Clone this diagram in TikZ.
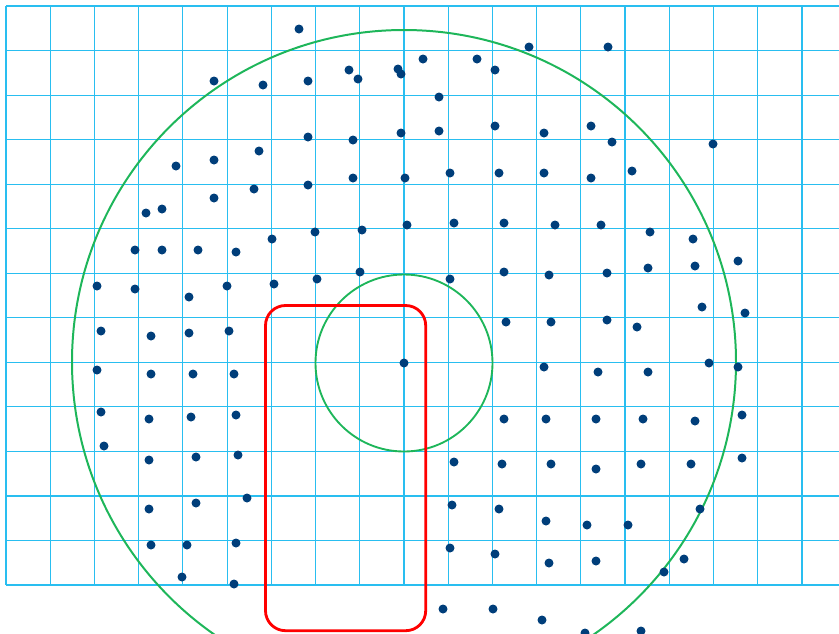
\documentclass[tikz,border=0pt]{standalone}
\usepackage{tikz}
\definecolor{gridcyan}{RGB}{41,190,240}
\definecolor{ringgreen}{RGB}{30,182,90}
\definecolor{dotblue}{RGB}{0,62,122}
\newcommand{\bggrid}{%
  \foreach \k in {0,...,13}{
    \draw[gridcyan,line width=1pt] (6,6+44.54*\k) -- (839,6+44.54*\k);
  }
  \foreach \k in {0,...,18}{
    \draw[gridcyan,line width=1pt] (6+44.22*\k,6) -- (6+44.22*\k,585);
  }%
}

\begin{document}
\begin{tikzpicture}[x=0.3mm,y=-0.3mm]
  \useasboundingbox (0,0) rectangle (839,633);
  \clip (0,0) rectangle (839,633);
  \bggrid
  % rings round the centre
  \draw[ringgreen,line width=1.7pt] (404,362) circle[radius=332];
  \draw[ringgreen,line width=1.6pt] (404,363) circle[radius=88.5];
  \draw[red,line width=2.4pt,rounded corners=6mm]
    (265.5,305.5) rectangle (425.7,630.7);
  % points
  \foreach \x/\y in {214/81,263/85,176/166,214/160,259/151,214/198,254/189,
      146/213,162/209,299/29,308/81,349/70,358/79,398/69,401/74,423/59,
      477/59,495/70,529/47,439/97,308/137,353/140,401/133,439/131,495/126,
      544/133,308/185,353/178,405/178,450/173,499/173,544/173,608/47,591/126,
      612/142,713/144,591/178,632/171,
      135/250,162/250,198/250,236/252,272/239,97/286,135/289,189/297,227/286,
      274/284,101/331,151/336,189/333,229/331,97/370,151/374,193/374,234/374,
      101/412,149/419,191/417,236/415,
      315/232,362/230,407/225,454/223,504/223,555/225,317/279,360/272,
      450/279,504/272,549/275,506/322,551/322,404/363,544/367,504/419,546/419,
      601/225,650/232,693/239,607/273,648/268,695/266,738/261,702/307,745/313,
      607/320,637/327,709/363,738/367,598/372,648/372,596/419,643/419,695/421,
      742/415,
      104/446,149/460,196/457,238/455,149/509,196/503,247/498,151/545,187/545,
      236/543,182/577,234/584,
      454/462,502/464,551/464,452/505,499/509,546/521,450/548,495/554,549/563,
      443/609,493/609,542/620,
      596/469,641/464,691/464,742/458,700/509,587/525,628/525,596/561,684/559,
      664/572,585/633,641/631}
    \fill[dotblue] (\x,\y) circle[radius=4.5];
\end{tikzpicture}
\end{document}
